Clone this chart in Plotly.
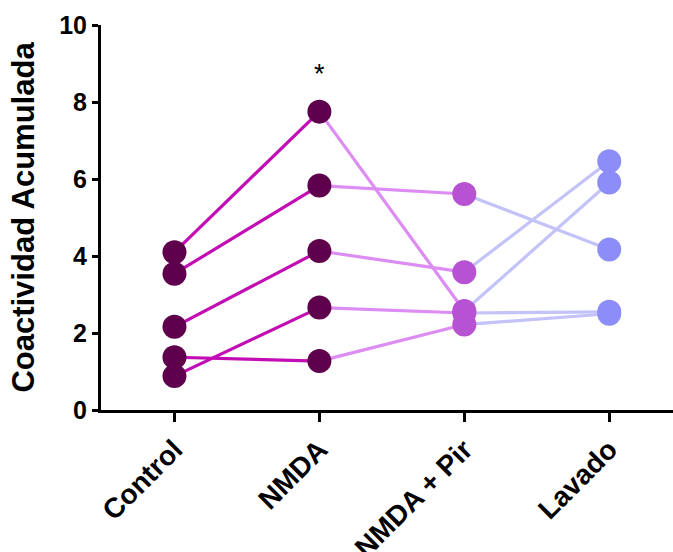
import plotly.graph_objects as go

# Conditions in order of the protocol
conditions = ["Control", "NMDA", "NMDA + Pir", "Lavado"]

# Accumulated coactivity per preparation (one entry per preparation)
control = [4.10, 3.54, 2.16, 0.88, 1.37]
nmda = [7.75, 5.83, 4.13, 2.66, 1.27]
nmda_pir = [2.57, 5.61, 3.58, 2.52, 2.22]
lavado = [5.91, 4.17, 6.46, 2.55, 2.50]

columns = [control, nmda, nmda_pir, lavado]

# Segment colours (line leaving each condition) and marker colours per condition
segment_colors = ["#c20cb4", "#dc8cf2", "#c3c3f9"]
marker_colors = ["#5e004c", "#5e004c", "#b752d2", "#8d8df9"]

font_family = "Liberation Sans, Arial, sans-serif"

fig = go.Figure()

n = len(control)
for seg in range(3):
    for i in range(n):
        fig.add_trace(go.Scatter(
            x=[seg, seg + 1],
            y=[columns[seg][i], columns[seg + 1][i]],
            mode="lines",
            line=dict(color=segment_colors[seg], width=3.2),
            showlegend=False,
            hoverinfo="skip",
        ))

for c, vals in enumerate(columns):
    fig.add_trace(go.Scatter(
        x=[c] * len(vals),
        y=vals,
        mode="markers",
        marker=dict(color=marker_colors[c], size=24, line=dict(width=0)),
        showlegend=False,
        cliponaxis=False,
    ))

fig.add_annotation(
    x=1, y=8.72, text="*", showarrow=False,
    font=dict(family=font_family, size=27, color="black"),
)

fig.update_layout(
    width=673, height=552,
    margin=dict(l=101, r=0, t=25, b=142, autoexpand=False),
    paper_bgcolor="white",
    plot_bgcolor="white",
    font=dict(family=font_family, color="black"),
    xaxis=dict(
        range=[-0.507, 3.44],
        tickmode="array",
        tickvals=list(range(len(conditions))),
        ticktext=["<b>%s</b>" % t for t in conditions],
        tickangle=-45,
        tickfont=dict(size=28, family=font_family, color="black"),
        showline=True, linecolor="black", linewidth=3,
        ticks="outside", ticklen=9, tickwidth=3, tickcolor="black",
        showgrid=False, zeroline=False,
        automargin=False,
    ),
    yaxis=dict(
        range=[0, 10],
        tickvals=[0, 2, 4, 6, 8, 10],
        ticktext=["<b>%d</b>" % v for v in [0, 2, 4, 6, 8, 10]],
        tickfont=dict(size=25, family=font_family, color="black"),
        showline=True, linecolor="black", linewidth=3,
        ticks="outside", ticklen=6, tickwidth=3, tickcolor="black",
        showgrid=False, zeroline=False,
        automargin=False,
        title=dict(text="<b>Coactividad Acumulada</b>",
                   font=dict(size=31, family=font_family, color="black"),
                   standoff=16),
    ),
)

fig.write_html("out.html")
